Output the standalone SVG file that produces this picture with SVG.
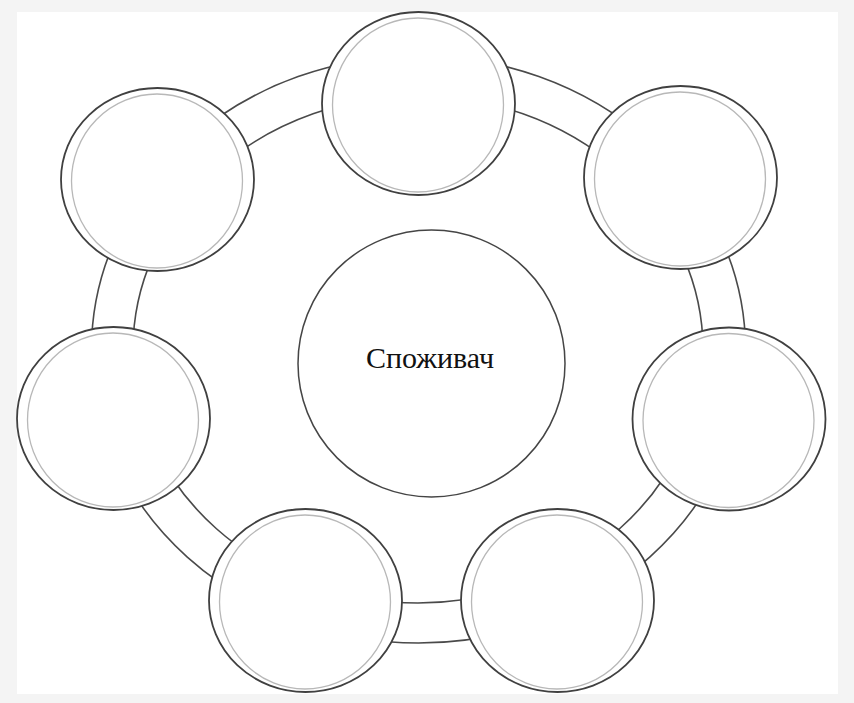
<svg xmlns="http://www.w3.org/2000/svg" width="854" height="703" viewBox="0 0 854 703">
  <style>
    .ring { fill: none; stroke: #4a4a4a; stroke-width: 1.6; }
    .outer { fill: #ffffff; stroke: #404040; stroke-width: 1.8; }
    .inner { fill: none; stroke: #b8b8b8; stroke-width: 1.3; }
    .center { fill: #ffffff; stroke: #454545; stroke-width: 1.5; }
    .label { font-family: "Liberation Serif", "Times New Roman", serif; font-size: 30px; fill: #111111; text-anchor: middle; }
  </style>
  <defs>
    <g id="node-shape">
      <ellipse class="outer" cx="0" cy="0" rx="96.5" ry="91.5"/>
      <ellipse class="inner" cx="-0.5" cy="1.5" rx="85.5" ry="87"/>
    </g>
  </defs>
  <rect x="0" y="0" width="854" height="703" fill="#f4f4f4"/>
  <rect x="17" y="12" width="821" height="682" fill="#ffffff"/>

  <g id="connectors">
    <ellipse class="ring" cx="418.5" cy="349.5" rx="327" ry="293.5"/>
    <ellipse class="ring" cx="418" cy="349.5" rx="285" ry="253.5"/>
  </g>

  <g id="node-top"><use href="#node-shape" x="418.5" y="103.5"/></g>
  <g id="node-top-left"><use href="#node-shape" x="157.5" y="179.5"/></g>
  <g id="node-top-right"><use href="#node-shape" x="680.5" y="177.5"/></g>
  <g id="node-left"><use href="#node-shape" x="113.5" y="418.5"/></g>
  <g id="node-right"><use href="#node-shape" x="729" y="419"/></g>
  <g id="node-bottom-left"><use href="#node-shape" x="305.5" y="600.5"/></g>
  <g id="node-bottom-right"><use href="#node-shape" x="557.5" y="600.5"/></g>

  <g id="node-center">
    <circle class="center" cx="431.5" cy="363.5" r="133.5"/>
    <text class="label" x="430" y="368">Споживач</text>
  </g>
</svg>
